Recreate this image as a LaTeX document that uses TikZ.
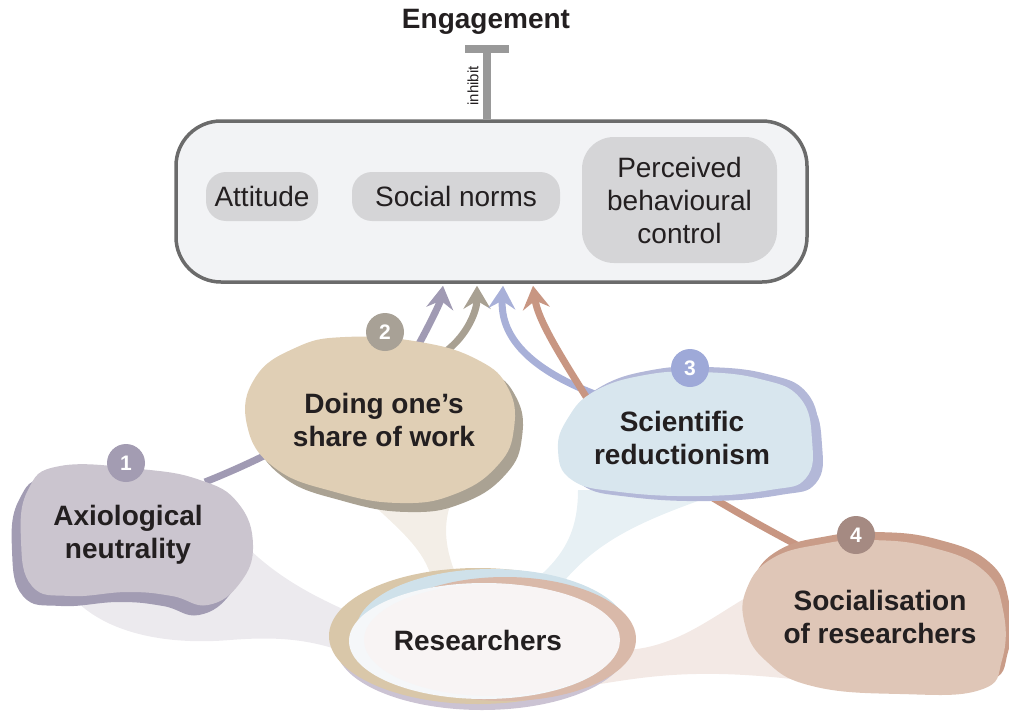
\documentclass[tikz,border=0pt]{standalone}
\usepackage{fontspec}
\setmainfont{Liberation Sans}
\usetikzlibrary{arrows.meta,calc}
\definecolor{boxfill}{HTML}{F2F3F5}
\definecolor{boxline}{HTML}{6B6B6B}
\definecolor{innergray}{HTML}{D5D5D7}
\definecolor{tbarcol}{HTML}{999999}
\definecolor{fillA}{HTML}{CBC5CF}
\definecolor{shadA}{HTML}{A29CB3}
\definecolor{fillB}{HTML}{E0CFB5}
\definecolor{shadB}{HTML}{AAA293}
\definecolor{fillC}{HTML}{D8E6EE}
\definecolor{shadC}{HTML}{B3B8D8}
\definecolor{fillD}{HTML}{DFC6B7}
\definecolor{shadD}{HTML}{C99C88}
\definecolor{lineA}{HTML}{A09AB3}
\definecolor{lineB}{HTML}{A8A092}
\definecolor{lineC}{HTML}{A8B0D8}
\definecolor{lineD}{HTML}{C89682}
\definecolor{badgeA}{HTML}{A39CB2}
\definecolor{badgeB}{HTML}{A8A196}
\definecolor{badgeC}{HTML}{9EA9D8}
\definecolor{badgeD}{HTML}{A58A82}
\definecolor{beamA}{HTML}{ECEAEE}
\definecolor{beamB}{HTML}{F3EEE7}
\definecolor{beamC}{HTML}{E7F0F4}
\definecolor{beamD}{HTML}{F3E9E5}
\definecolor{rimA}{HTML}{CBC3D3}
\definecolor{rimB}{HTML}{D9C7A9}
\definecolor{rimC}{HTML}{CFE1EA}
\definecolor{rimD}{HTML}{D9B9A9}
\definecolor{resA}{HTML}{F5F7F9}
\definecolor{resB}{HTML}{F8F4F4}
\definecolor{txt}{HTML}{231F20}
\newcommand{\blobone}[1]{\fill[#1] plot[smooth cycle,tension=0.75] coordinates {(60,466) (140,469) (200,480) (238,503) (253,545) (240,583) (208,605) (172,596) (128,592) (70,596) (32,586) (21,540) (28,490)};}
\newcommand{\blobtwo}[1]{\fill[#1] plot[smooth cycle,tension=0.75] coordinates {(255,378) (295,348) (345,337) (420,342) (478,360) (508,388) (514,428) (498,465) (455,494) (400,503) (335,492) (275,468) (247,425)};}
\newcommand{\blobthree}[1]{\fill[#1] plot[smooth cycle,tension=0.75] coordinates {(568,418) (595,391) (645,375) (700,372) (760,379) (800,398) (812,440) (806,478) (770,490) (700,496) (620,492) (572,480) (558,450)};}
\newcommand{\blobfour}[1]{\fill[#1] plot[smooth cycle,tension=0.75] coordinates {(747,588) (773,558) (822,544) (870,540) (930,547) (983,570) (1003,610) (1002,660) (980,690) (900,694) (812,686) (765,660) (745,625)};}
\begin{document}
\begin{tikzpicture}[x=1pt,y=-1pt,
  bigbox/.style={draw=boxline,line width=3.5pt,fill=boxfill,rounded corners=45pt,minimum width=631pt,minimum height=161pt,inner sep=0pt},
  innerbox/.style={fill=innergray,rounded corners=20pt,inner sep=0pt,align=center,text=txt,font=\fontsize{28}{34}\selectfont},
  lbl/.style={align=center,text=txt,font=\bfseries\fontsize{28}{33}\selectfont,inner sep=0pt},
  badge/.style={circle,minimum size=38pt,inner sep=0pt,text=white,font=\bfseries\fontsize{21}{21}\selectfont},
  conn/.style={line width=7pt,-{Stealth[length=23pt,width=27pt,inset=8pt]}},
  tbar/.style={line width=8pt,draw=tbarcol}
]
\useasboundingbox (0,0) rectangle (1009,717);
% beams
\fill[beamA] (75,600) .. controls (110,635) and (170,645) .. (230,640) .. controls (280,636) and (310,640) .. (345,652) -- (345,610) .. controls (300,590) and (270,570) .. (245,545) -- cycle;
\fill[beamB] (368,500) .. controls (400,530) and (425,550) .. (432,580) -- (458,580) .. controls (445,550) and (442,525) .. (452,500) -- cycle;
\fill[beamC] (578,490) .. controls (578,530) and (565,555) .. (535,580) -- (565,580) .. controls (600,540) and (640,520) .. (730,490) -- cycle;
\fill[beamD] (760,590) .. controls (720,610) and (680,648) .. (625,650) -- (600,684) .. controls (650,676) and (700,668) .. (800,680) -- cycle;
% researchers ellipse
\fill[rimA] (482,646) ellipse [x radius=146, y radius=64];
\fill[rimB] (478,636) ellipse [x radius=149, y radius=68];
\fill[rimC] (492,631) ellipse [x radius=136, y radius=62];
\fill[rimD] (505,639) ellipse [x radius=131, y radius=62];
\fill[resA] (484,641) ellipse [x radius=135, y radius=58];
\fill[resB] (492,640) ellipse [x radius=128, y radius=56];
\node[lbl] (res) at (478,640) {Researchers};
% main box
\node[bigbox] (box) at (491.5,201.5) {};
\node[innerbox,minimum width=112pt,minimum height=49pt] (att) at (262,196.5) {Attitude};
\node[innerbox,minimum width=208pt,minimum height=49pt] (soc) at (456,196.5) {Social norms};
\node[innerbox,minimum width=195pt,minimum height=126pt,rounded corners=32pt] (pbc) at (679.5,200) {Perceived\\[-1pt]behavioural\\[-1pt]control};
% engagement
\node[lbl] (eng) at (486,22) {Engagement};
\coordinate (tb) at (487,49);
\draw[tbar] (box.north -| tb) -- (tb);
\draw[tbar] ([xshift=-22pt]tb) -- ([xshift=22pt]tb);
\node[rotate=90,text=txt,font=\fontsize{15}{15}\selectfont,inner sep=0pt] (inh) at (473,86) {inhibit};
% connectors
\coordinate (s1) at (205,482);
\coordinate (s2) at (445,352);
\coordinate (s3) at (600,396);
\coordinate (s4) at (810,552);
\coordinate (e1) at ($(box.south)+(-48.5,2)$);
\coordinate (e2) at ($(box.south)+(-14.5,2)$);
\coordinate (e3) at ($(box.south)+(11.5,2)$);
\coordinate (e4) at ($(box.south)+(41.5,2)$);
\draw[conn,draw=lineA] (s1) .. controls (330,432) and (405,370) .. (420,342) .. controls (433,318) and (441,300) .. (e1);
\draw[conn,draw=lineB] (s2) .. controls (468,335) and (477,310) .. (e2);
\draw[conn,draw=lineC] (s3) .. controls (535,372) and (500,340) .. (e3);
\draw[conn,draw=lineD] (s4) .. controls (740,515) and (620,450) .. (585,395) .. controls (560,355) and (538,320) .. (e4);
% bubbles
\blobone{shadA,shift={(-9,10)}}
\blobone{fillA}
\blobtwo{shadB,shift={(8,9)}}
\blobtwo{fillB}
\blobthree{shadC,shift={(10,5)}}
\blobthree{shadC,shift={(7,-5)}}
\blobthree{fillC}
\blobfour{shadD,shift={(6,-8)}}
\blobfour{fillD}
% badges
\node[badge,fill=badgeA] (n1) at (126,463) {1};
\node[badge,fill=badgeB] (n2) at (385,332) {2};
\node[badge,fill=badgeC] (n3) at (690,368) {3};
\node[badge,fill=badgeD] (n4) at (856,535) {4};
% labels
\node[lbl] (t1) at (128,535) {Axiological\\neutrality};
\node[lbl] (t2) at (384,420) {Doing one’s\\share of work};
\node[lbl] (t3) at (682,438) {Scientific\\reductionism};
\node[lbl] (t4) at (880,617) {Socialisation\\of researchers};
\end{tikzpicture}
\end{document}
